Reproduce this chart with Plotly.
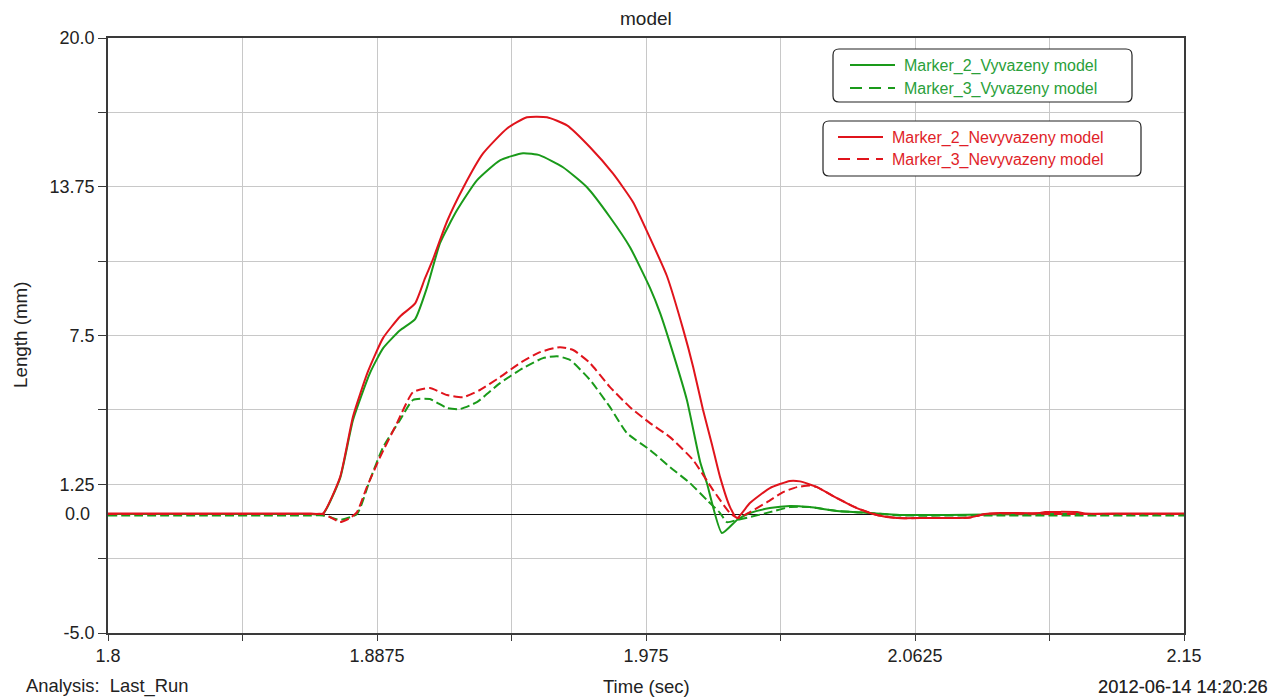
import plotly.graph_objects as go

# ---------------- data ----------------
t_m2v = [1.8, 1.83, 1.85, 1.86, 1.866, 1.8699, 1.8755, 1.8797, 1.8852, 1.8895, 1.8950,
         1.8999, 1.9038, 1.9080,
         1.9135, 1.9200, 1.9275, 1.9350, 1.9405, 1.9480, 1.9558, 1.9633, 1.9698, 1.9763,
         1.9796, 1.9838, 1.9883, 1.9926, 1.9948, 1.9997, 2.0046, 2.0088, 2.0153, 2.0218,
         2.0283, 2.0371, 2.0479, 2.0576, 2.0853, 2.11, 2.15]
y_m2v = [0, 0, 0, 0, 0, 0, 1.51, 3.95, 5.92, 6.97, 7.72,
         8.19, 9.53, 11.38,
         12.76, 14.02, 14.86, 15.16, 15.07, 14.57, 13.73, 12.47, 11.21, 9.5,
         8.44, 6.76, 4.79, 2.2, 1.3, -0.8, -0.25, 0.04, 0.25, 0.34,
         0.29, 0.13, 0.04, -0.04, -0.02, 0.0, 0.0]

t_m3v = [1.8, 1.83, 1.85, 1.86, 1.866, 1.8699, 1.8722, 1.8755, 1.8810, 1.8852, 1.8895,
         1.8950, 1.8992, 1.9047,
         1.9103, 1.9145, 1.9200, 1.9275, 1.9350, 1.9415, 1.9461, 1.9503, 1.9568, 1.9633,
         1.9688, 1.9763, 1.9828, 1.9893, 1.9948, 1.9991, 2.0013, 2.0046, 2.0088, 2.0153,
         2.0218, 2.0283, 2.0371, 2.0479, 2.0576, 2.09, 2.12, 2.15]
y_m3v = [-0.06, -0.06, -0.06, -0.06, -0.06, -0.06, -0.13, -0.25, 0.0, 1.43, 2.81,
         3.95, 4.79, 4.83,
         4.45, 4.41, 4.7, 5.5, 6.13, 6.55, 6.63, 6.47, 5.63, 4.49,
         3.4, 2.69, 1.97, 1.3, 0.59, 0.04, -0.34, -0.25, -0.13, 0.08,
         0.29, 0.29, 0.13, 0.04, -0.06, -0.06, -0.06, -0.06]

t_m2n = [1.8, 1.83, 1.85, 1.86, 1.866, 1.8699, 1.8755, 1.8797, 1.8846, 1.8895, 1.8950,
         1.8999, 1.9031, 1.9057,
         1.9103, 1.9155, 1.9220, 1.9298, 1.9363, 1.9428, 1.9493, 1.9568, 1.9643, 1.9708,
         1.9763, 1.9818, 1.9870, 1.9903, 1.9935, 1.9965, 1.9991, 2.0023, 2.0046, 2.0088,
         2.0153, 2.0218, 2.0251, 2.0306, 2.0371, 2.0436, 2.0501, 2.0566, 2.0650, 2.0739,
         2.0804, 2.0853, 2.0901, 2.1032, 2.1048, 2.1152, 2.1178, 2.13, 2.15]
y_m2n = [0.02, 0.02, 0.02, 0.02, 0.02, 0.02, 1.55, 4.1, 6.0, 7.4, 8.3,
         8.85, 9.9, 10.7,
         12.3, 13.7, 15.15, 16.2, 16.67, 16.67, 16.33, 15.41, 14.3, 13.1,
         11.6, 10.0, 7.8, 6.2, 4.4, 2.9, 1.55, 0.3, -0.17, 0.46,
         1.09, 1.39, 1.37, 1.13, 0.67, 0.25, -0.04, -0.17, -0.17, -0.17,
         -0.15, 0.0, 0.04, 0.04, 0.08, 0.08, 0.02, 0.02, 0.02]

t_m3n = [1.8, 1.83, 1.85, 1.86, 1.866, 1.8699, 1.8722, 1.8755, 1.8787, 1.8810, 1.8842,
         1.8885, 1.8940, 1.8992,
         1.9047, 1.9103, 1.9155, 1.9210, 1.9275, 1.9340, 1.9405, 1.9470, 1.9513, 1.9568,
         1.9633, 1.9698, 1.9763, 1.9828, 1.9903, 1.9968, 2.0023, 2.0049, 2.0088, 2.0144,
         2.0196, 2.0241, 2.0283, 2.0306, 2.0371, 2.0436, 2.0501, 2.0566, 2.0650, 2.0739,
         2.0804, 2.0853, 2.11, 2.15]
y_m3n = [0.0, 0.0, 0.0, 0.0, 0.0, 0.0, -0.13, -0.34, -0.17, 0.08, 1.13,
         2.39, 3.82, 5.12,
         5.29, 5.0, 4.91, 5.21, 5.75, 6.34, 6.8, 7.01, 6.89, 6.34,
         5.33, 4.49, 3.82, 3.23, 2.27, 1.01, 0.04, -0.17, 0.08, 0.5,
         0.92, 1.13, 1.2, 1.13, 0.67, 0.25, -0.04, -0.17, -0.17, -0.17,
         -0.15, 0.0, 0.0, 0.0]

series_names = ["Marker_2_Vyvazeny model", "Marker_3_Vyvazeny model",
                "Marker_2_Nevyvazeny model", "Marker_3_Nevyvazeny model"]

x_tickvals = [1.8, 1.84375, 1.8875, 1.93125, 1.975, 2.01875, 2.0625, 2.10625, 2.15]
x_ticktext = ["1.8", "", "1.8875", "", "1.975", "", "2.0625", "", "2.15"]
y_tickvals = [-5.0, -1.875, 1.25, 4.375, 7.5, 10.625, 13.75, 16.875, 20.0]
y_ticktext = ["-5.0", "", "1.25", "", "7.5", "", "13.75", "", "20.0"]

# ---------------- style ----------------
W, H = 1283, 700
ML, MR, MT, MB = 108, 99, 38, 67
PW, PH = W - ML - MR, H - MT - MB
GREEN = "#1a9a1a"
RED = "#e0141c"
GREEN_TXT = "#2aa03a"
RED_TXT = "#e01e28"
TXT = "#222222"
FONT = "Liberation Sans, Arial, sans-serif"
DASH = "9px,4px"
LEG_DASH = "12px,7px"


def px(x):
    return (x - ML) / PW


def py(y):
    return (H - MB - y) / PH


def rrect(x0, y0, x1, y1, r=6):
    return (f"M {px(x0 + r)} {py(y0)} L {px(x1 - r)} {py(y0)} "
            f"Q {px(x1)} {py(y0)} {px(x1)} {py(y0 + r)} L {px(x1)} {py(y1 - r)} "
            f"Q {px(x1)} {py(y1)} {px(x1 - r)} {py(y1)} L {px(x0 + r)} {py(y1)} "
            f"Q {px(x0)} {py(y1)} {px(x0)} {py(y1 - r)} L {px(x0)} {py(y0 + r)} "
            f"Q {px(x0)} {py(y0)} {px(x0 + r)} {py(y0)} Z")


fig = go.Figure()
trace_specs = [
    (t_m2v, y_m2v, series_names[0], GREEN, "solid"),
    (t_m3v, y_m3v, series_names[1], GREEN, DASH),
    (t_m2n, y_m2n, series_names[2], RED, "solid"),
    (t_m3n, y_m3n, series_names[3], RED, DASH),
]
for tx, ty, nm, col, dash in trace_specs:
    fig.add_trace(go.Scatter(x=tx, y=ty, mode="lines", name=nm, showlegend=False,
                             line=dict(color=col, width=2, dash=dash,
                                       shape="spline", smoothing=0.5)))

axis_common = dict(showline=True, linecolor="#3a3a3a", linewidth=1.6, mirror=True,
                   showgrid=True, gridcolor="#c8c8c8", gridwidth=1,
                   ticks="outside", tickcolor="#3a3a3a", tickwidth=1.4,
                   tickfont=dict(family=FONT, size=18, color=TXT))

fig.update_xaxes(range=[1.8, 2.15], tickmode="array", tickvals=x_tickvals,
                 ticktext=x_ticktext, ticklen=6, zeroline=False, **axis_common)
fig.update_yaxes(range=[-5, 20], tickmode="array", tickvals=y_tickvals,
                 ticktext=y_ticktext, ticklen=8, zeroline=True,
                 zerolinecolor="#111111", zerolinewidth=1.2, **axis_common)

# legend boxes (two separate rounded boxes as in the original)
shapes = [
    dict(type="path", xref="paper", yref="paper", path=rrect(833, 49, 1132, 102),
         line=dict(color="#222222", width=1.2), fillcolor="white", layer="above"),
    dict(type="path", xref="paper", yref="paper", path=rrect(823, 121, 1141, 176),
         line=dict(color="#222222", width=1.2), fillcolor="white", layer="above"),
]
legend_rows = [
    # (line x0, line x1, text x, row y, colour, text colour, dash, name)
    (850, 895, 902, 65, GREEN, GREEN_TXT, "solid", series_names[0]),
    (850, 895, 902, 88, GREEN, GREEN_TXT, LEG_DASH, series_names[1]),
    (838, 883, 890, 137, RED, RED_TXT, "solid", series_names[2]),
    (838, 883, 890, 159, RED, RED_TXT, LEG_DASH, series_names[3]),
]

annotations = [
    dict(text="model", x=px(645.5), y=py(19), xref="paper", yref="paper",
         showarrow=False, xanchor="center", yanchor="middle",
         font=dict(family=FONT, size=19, color=TXT)),
    dict(text="Length (mm)", x=px(20), y=py(335), xref="paper", yref="paper",
         showarrow=False, textangle=-90, xanchor="center", yanchor="middle",
         font=dict(family=FONT, size=18.8, color=TXT)),
    dict(text="Time (sec)", x=px(646.5), y=py(686), xref="paper", yref="paper",
         showarrow=False, xanchor="center", yanchor="middle",
         font=dict(family=FONT, size=18.5, color=TXT)),
    dict(text="Analysis:  Last_Run", x=px(24), y=py(686), xref="paper", yref="paper",
         showarrow=False, xanchor="left", yanchor="middle",
         font=dict(family=FONT, size=18.4, color=TXT)),
    dict(text="2012-06-14 14:20:26", x=px(1270), y=py(686), xref="paper", yref="paper",
         showarrow=False, xanchor="right", yanchor="middle",
         font=dict(family=FONT, size=18.3, color=TXT)),
    dict(text="2012-06-14 14:10:28", x=px(1270), y=py(686), xref="paper", yref="paper",
         showarrow=False, xanchor="right", yanchor="middle",
         font=dict(family=FONT, size=18.3, color="rgba(34,34,34,0.55)")),
    dict(text="0.0", x=0, y=0, xref="paper", yref="y", showarrow=False,
         xanchor="right", yanchor="middle", xshift=-16,
         font=dict(family=FONT, size=18, color=TXT)),
]

for x0, x1, tx, ry, col, tcol, dash, nm in legend_rows:
    shapes.append(dict(type="line", xref="paper", yref="paper",
                       x0=px(x0), x1=px(x1), y0=py(ry), y1=py(ry),
                       line=dict(color=col, width=2, dash=dash), layer="above"))
    annotations.append(dict(text=nm, x=px(tx), y=py(ry + 1), xref="paper", yref="paper",
                            showarrow=False, xanchor="left", yanchor="middle",
                            font=dict(family=FONT, size=16, color=tcol)))

fig.update_layout(
    width=W, height=H,
    margin=dict(l=ML, r=MR, t=MT, b=MB, pad=0),
    paper_bgcolor="white", plot_bgcolor="white",
    showlegend=False,
    shapes=shapes,
    annotations=annotations,
)

fig.write_html("out.html")
